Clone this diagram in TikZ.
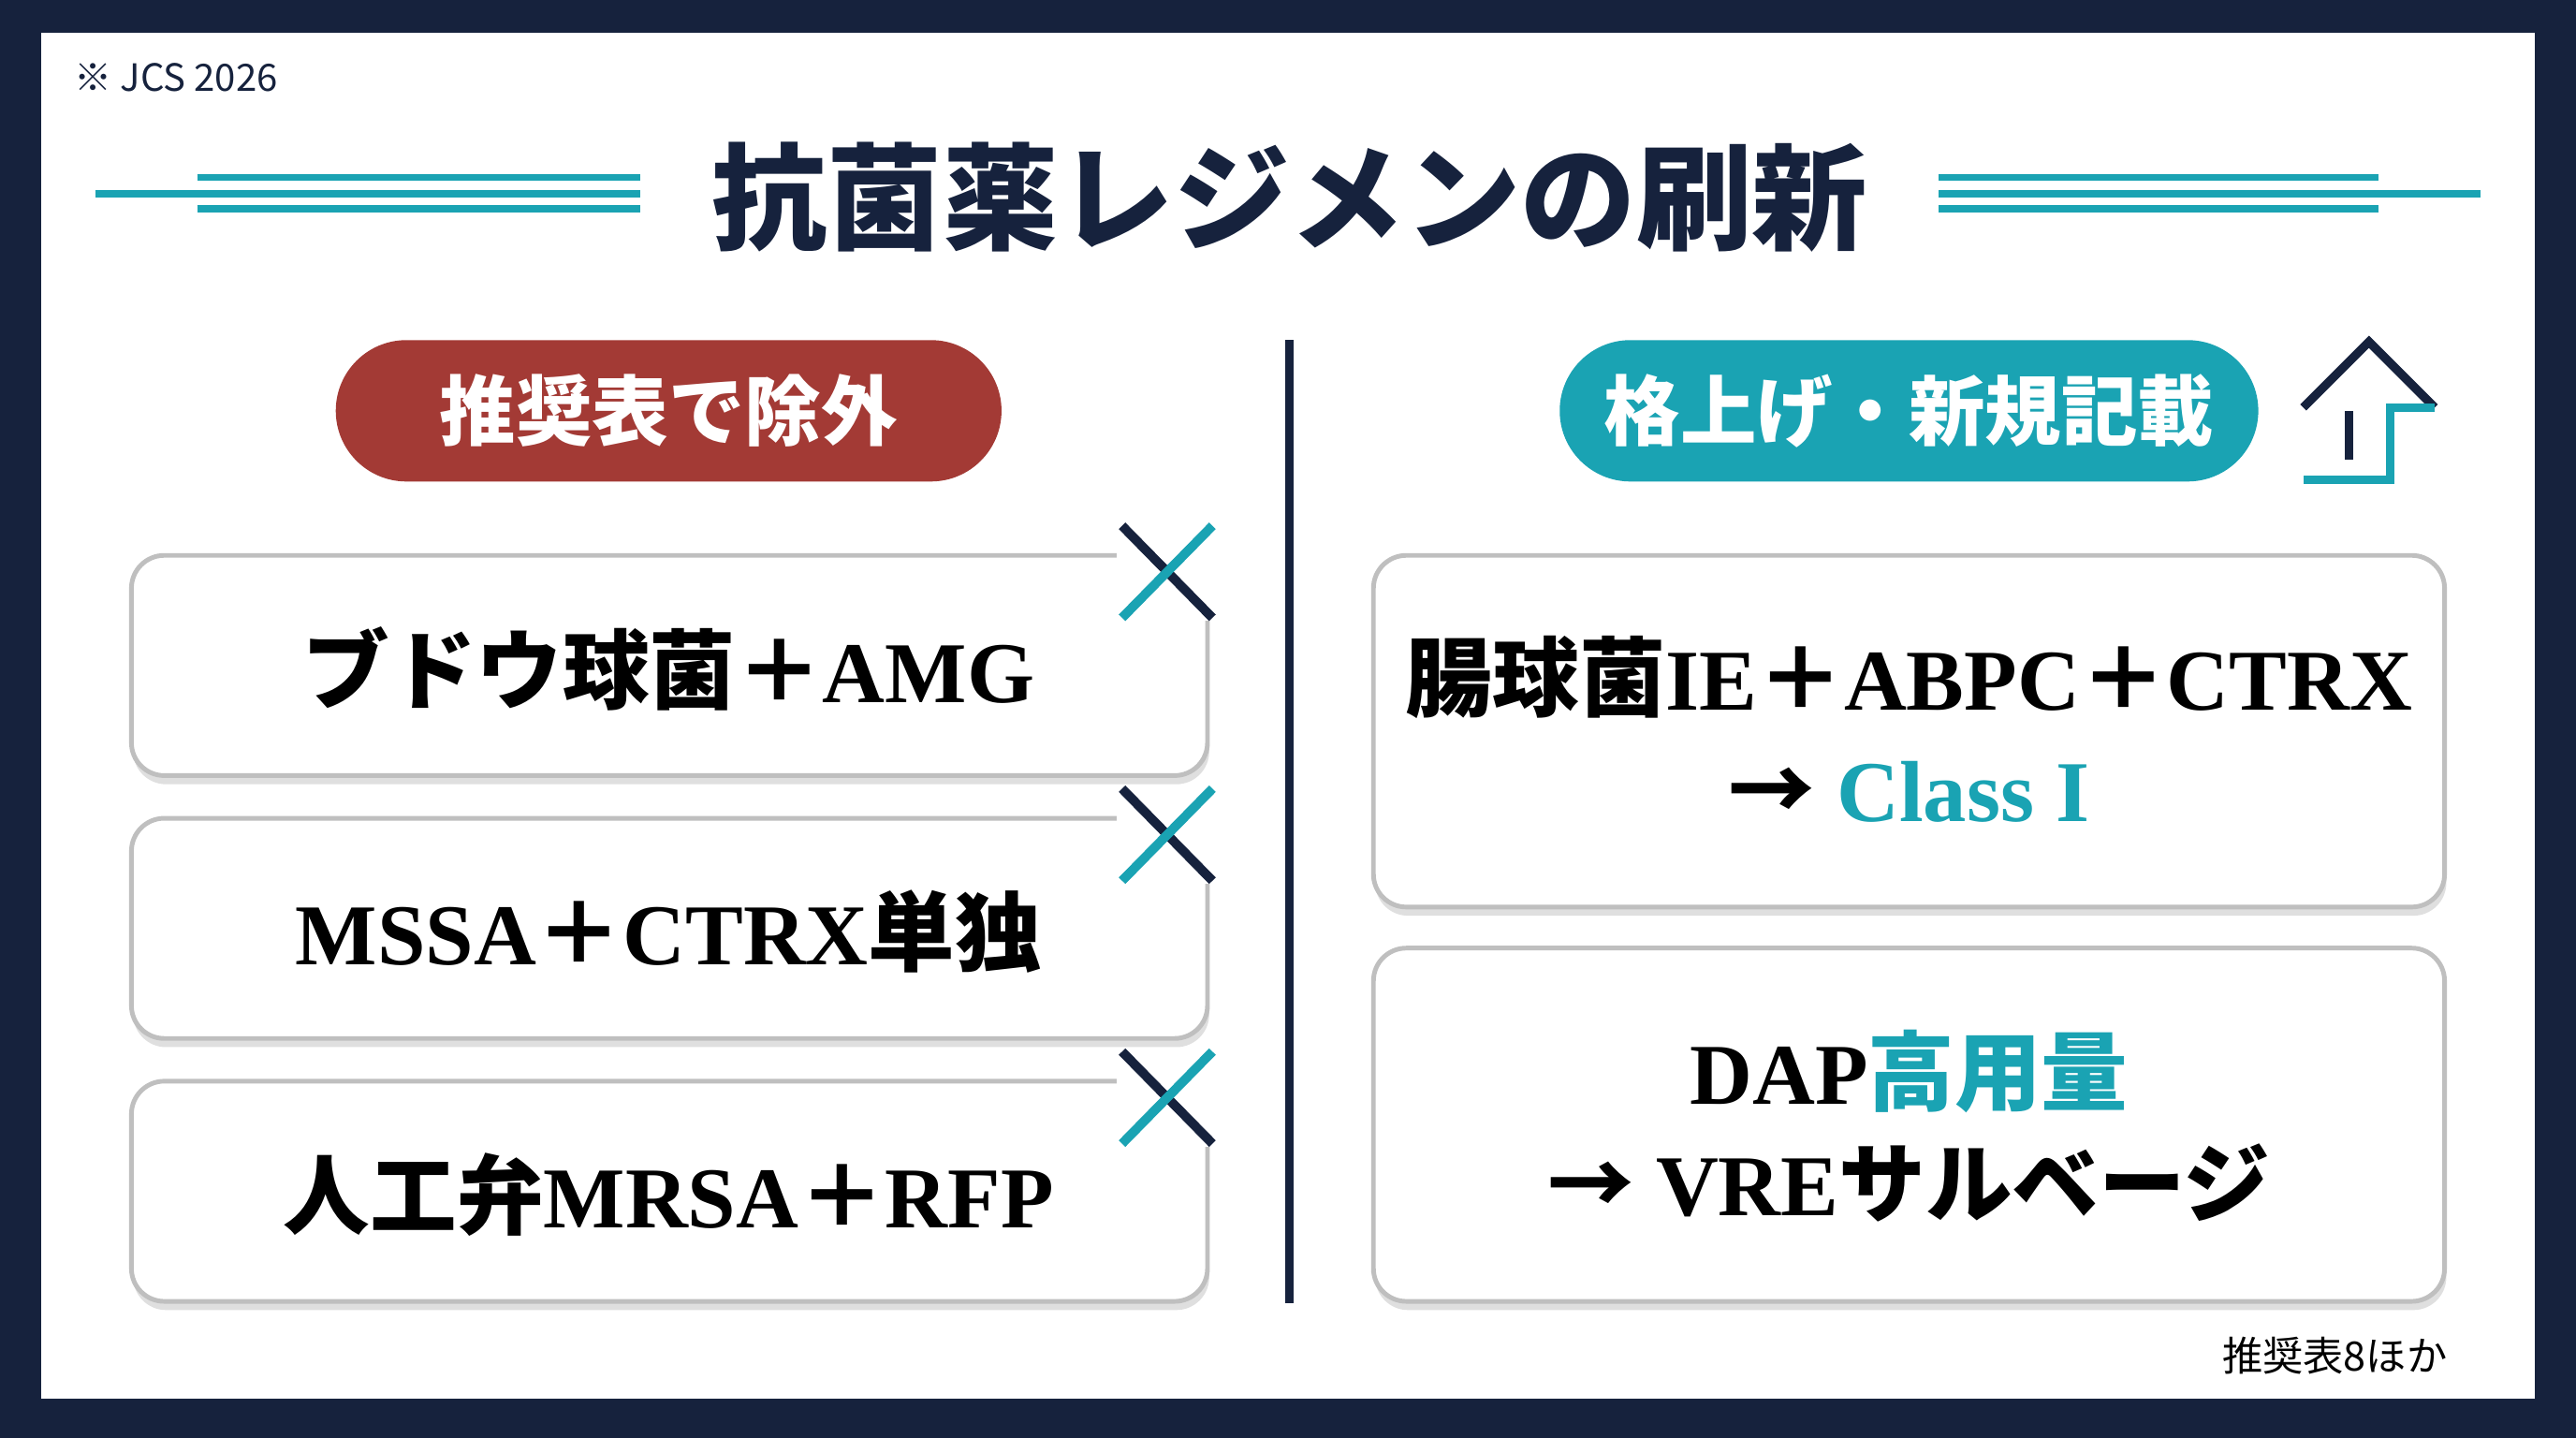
\documentclass[tikz,border=0pt]{standalone}
\usepackage{fontspec}
\setmainfont{Liberation Serif}
\newfontfamily\cjk{Noto Sans CJK JP}
\usetikzlibrary{shadows}
\definecolor{navy}{HTML}{16223D}
\definecolor{teal}{HTML}{1AA3B3}
\definecolor{redp}{HTML}{A33A35}
\newcommand{\J}[1]{{\cjk\bfseries #1}}
\begin{document}
\begin{tikzpicture}[x=0.01cm,y=-0.01cm,
  pill/.style={rounded corners=0.43cm,minimum width=#1,minimum height=0.86cm,text=white,font=\cjk\bfseries\fontsize{13.2}{16}\selectfont},
  card/.style={draw=black!25,line width=0.8pt,fill=white,rounded corners=0.2cm,drop shadow={shadow xshift=0.3pt,shadow yshift=-1.5pt,opacity=0.25}},
  btxt/.style={font=\bfseries\fontsize{15}{18}\selectfont,text=black},
  deco/.style={teal,line width=1.2pt},
  xmark/.style={line width=1.6pt}]
\useasboundingbox (0,0) rectangle (1568,875);
\fill[navy] (0,0) rectangle (1568,875);
\fill[white] (25,20) rectangle (1543,851);
\node[anchor=west,font=\cjk\fontsize{6.5}{8}\selectfont,text=navy] (note) at (33,47) {※ JCS 2026};
\node[font=\cjk\bfseries\fontsize{20}{24}\selectfont,text=navy] (title) at (785,120) {抗菌薬レジメンの刷新};
\draw[deco] (120,108)--(390,108) (58,118)--(390,118) (120,127)--(390,127);
\draw[deco] (1180,108)--(1448,108) (1180,118)--(1510,118) (1180,127)--(1448,127);
\node[pill=4.05cm,fill=redp] (p1) at (407,250) {推奨表で除外};
\node[pill=4.25cm,fill=teal] (p2) at (1162,250) {格上げ・新規記載};
% up arrow
\draw[navy,line width=1.5pt,line join=miter] (1402,248)--(1442,208)--(1482,248);
\draw[teal,line width=1.5pt] (1482,248)--(1455,248)--(1455,292)--(1402,292);
\draw[navy,line width=1.5pt] (1430,250)--(1430,280);
\draw[navy,line width=1.5pt] (785,207)--(785,793);
% left cards
\foreach \y/\n in {338/a,498/b,658/c}{
  \draw[card] (80,\y) rectangle (735,\y+134);
  \fill[white] (680,\y-2) rectangle (740,\y+40);
  \draw[xmark,navy] (683,\y-18)--(738,\y+38);
  \draw[xmark,teal] (738,\y-18)--(683,\y+38);
}
\node[btxt] (t1) at (407,407) {\J{ブドウ球菌＋}AMG};
\node[btxt] (t2) at (407,567) {MSSA\J{＋}CTRX\J{単独}};
\node[btxt] (t3) at (407,727) {\J{人工弁}MRSA\J{＋}RFP};
% right cards
\draw[card] (836,338) rectangle (1488,552);
\draw[card] (836,577) rectangle (1488,792);
\node[btxt] (r1) at (1162,412) {\J{腸球菌}IE\J{＋}ABPC\J{＋}CTRX};
\node[btxt] (r2) at (1162,482) {\J{→} \textcolor{teal}{Class I}};
\node[btxt] (r3) at (1162,652) {DAP\textcolor{teal}{\J{高用量}}};
\node[btxt] (r4) at (1162,720) {\J{→} VRE\J{サルベージ}};
\node[anchor=east,font=\cjk\fontsize{7}{8}\selectfont,text=black] (src) at (1502,825) {推奨表8ほか};
\end{tikzpicture}
\end{document}
